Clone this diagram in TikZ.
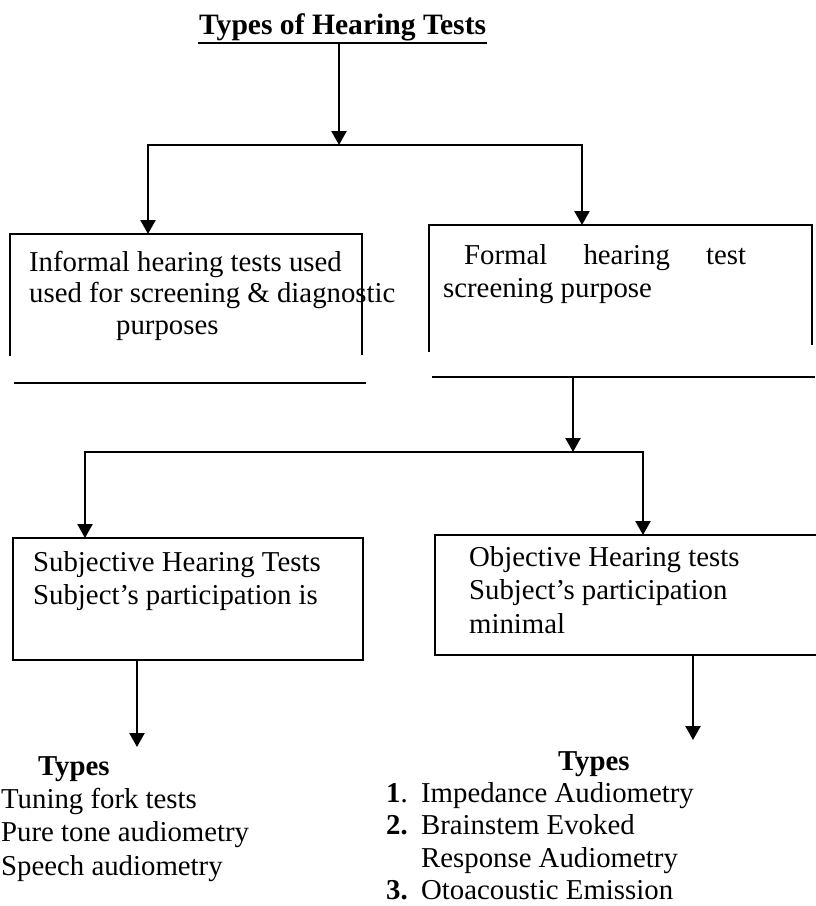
\documentclass[tikz,border=0pt]{standalone}
\usepackage{fontspec}
\setmainfont{Liberation Serif}
\usetikzlibrary{arrows.meta}

\begin{document}
\begin{tikzpicture}[
  x=1pt, y=-1pt, line width=2.3pt,
  frame/.style={draw=none, inner sep=0pt, outer sep=0pt, anchor=north west},
  txt/.style={anchor=north west, inner sep=0pt, align=left, font=\fontsize{28.8}{33.5}\selectfont},
  head/.style={txt, font=\bfseries\fontsize{28.8}{33.5}\selectfont},
  arr/.style={-{Triangle[length=14pt,width=15pt]}, line width=2.3pt}
]
\useasboundingbox (0,0) rectangle (815,906);

\node[head, font=\bfseries\fontsize{29.6}{33.5}\selectfont] (title) at (198,13) {Types of Hearing Tests};
\draw[line width=2.2pt] (title.south west) -- (title.south east);

\node[frame, minimum width=352pt, minimum height=149pt] (informal) at (10,234) {};
\node[frame, minimum width=383pt, minimum height=152pt] (formal) at (429,225) {};
\node[frame, draw, minimum width=350pt, minimum height=122pt] (subj) at (13,538) {};
\node[frame, draw, minimum width=385pt, minimum height=120pt] (obj) at (435,535) {};

\draw ([yshift=-122pt]informal.north west) |- (informal.north east) -- ++(0,121);
\draw ([xshift=4pt]informal.south west) -- ([xshift=4pt]informal.south east);
\draw ([yshift=-127pt]formal.north west) |- (formal.north east) -- ++(0,120);
\draw ([xshift=3pt]formal.south west) -- ([xshift=3pt]formal.south east);

\node[txt, font=\fontsize{28.8}{31.5}\selectfont] (informaltext) at (28,250)
  {Informal hearing tests used\\used for screening \& diagnostic\\\hspace*{87pt}purposes};
\node[txt] (formaltext) at (442,243)
  {\hspace*{21pt}\hbox to 282pt{Formal\hfill hearing\hfill test}\\screening purpose};
\node[txt] (subjtext) at (32,550) {Subjective Hearing Tests\\Subject’s participation is};
\node[txt] (objtext) at (468,545) {Objective Hearing tests\\Subject’s participation\\minimal};

\node[head] (subtypes) at (37,755) {Types};
\node[txt] (sublist) at (0,787) {Tuning fork tests\\Pure tone audiometry\\Speech audiometry};
\node[head] (objtypes) at (557,750) {Types};
\node[txt, font=\fontsize{28.8}{32.5}\selectfont] (objlist) at (385,781)
  {\makebox[35pt][l]{\textbf{1}.}Impedance Audiometry\\
   \makebox[35pt][l]{\textbf{2.}}Brainstem Evoked\\
   \hspace*{35pt}Response Audiometry\\
   \makebox[35pt][l]{\textbf{3.}}Otoacoustic Emission};

\coordinate (s1) at (339,145);
\coordinate (inA) at (148,234);
\coordinate (fmA) at (582,225);
\coordinate (s2) at (573,452);
\coordinate (subA) at (85,538);
\coordinate (objA) at (643,535);
\coordinate (subT) at (137,747);
\coordinate (objT) at (693,740);

\draw[arr] (title.south -| s1) -- (s1);
\draw[arr] (s1) -| (inA);
\draw[arr] (s1) -| (fmA);
\draw[arr] (formal.south -| s2) -- (s2);
\draw[arr] (s2) -| (subA);
\draw[arr] (s2) -| (objA);
\draw[arr] (subj.south -| subT) -- (subT);
\draw[arr] (obj.south -| objT) -- (objT);
\end{tikzpicture}
\end{document}
